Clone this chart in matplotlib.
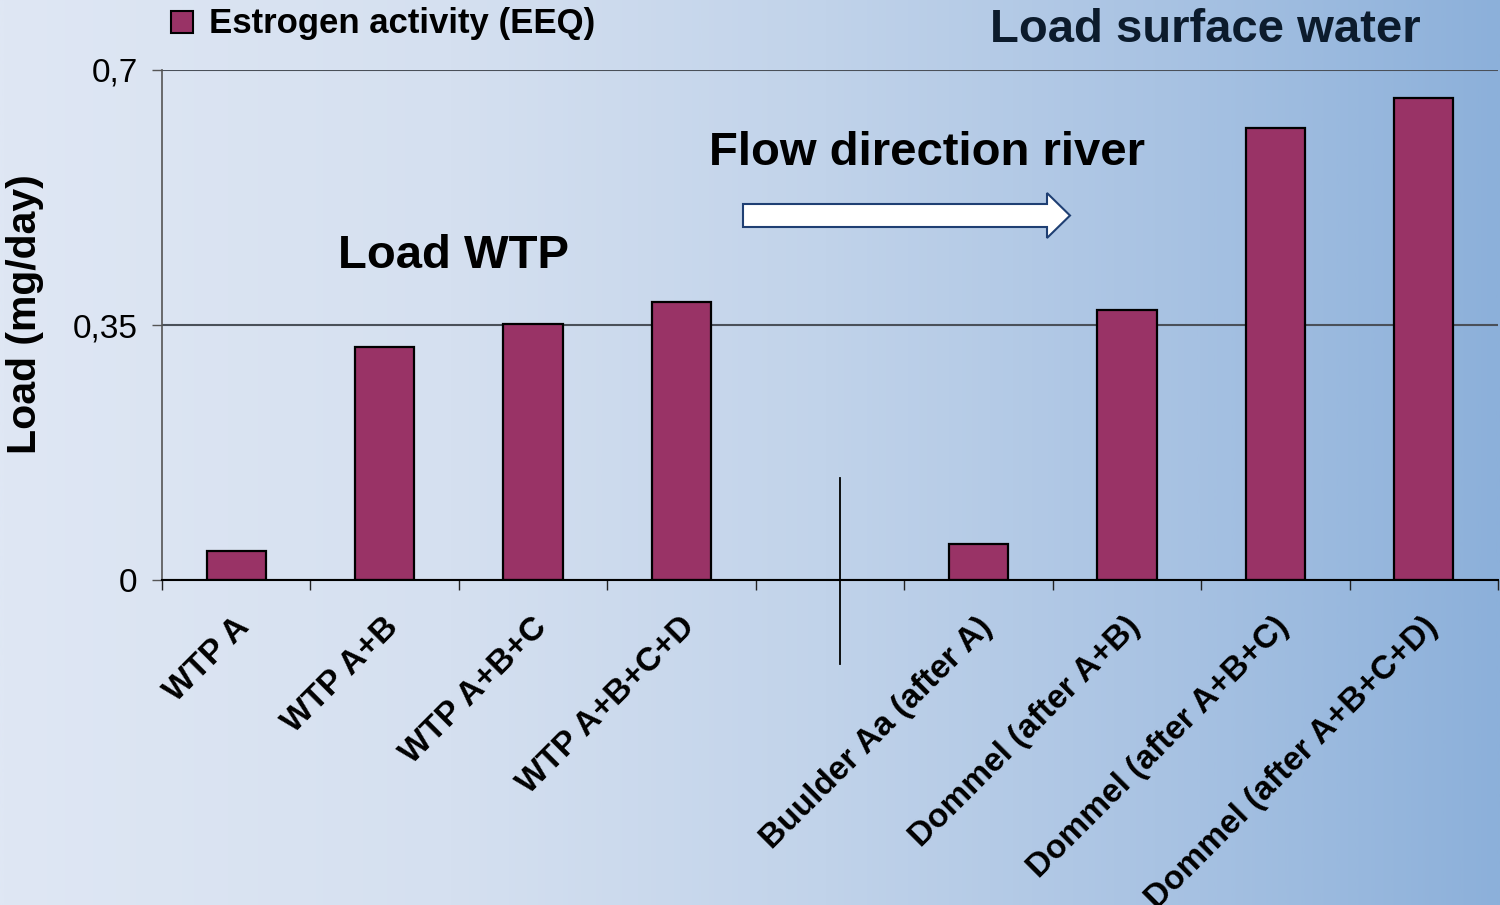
import numpy as np
import matplotlib
matplotlib.use("Agg")
import matplotlib.pyplot as plt
from matplotlib.colors import LinearSegmentedColormap
from matplotlib.patches import Rectangle, Polygon

plt.rcParams['font.family'] = ['Liberation Sans', 'DejaVu Sans']

# === DATOS ===
categorias = ["WTP A", "WTP A+B", "WTP A+B+C", "WTP A+B+C+D", "",
              "Buulder Aa (after A)", "Dommel (after A+B)",
              "Dommel (after A+B+C)", "Dommel (after A+B+C+D)"]
eeq_load = [0.040, 0.320, 0.351, 0.381, np.nan, 0.050, 0.371, 0.621, 0.661]
y_ticks = [0, 0.35, 0.7]
y_tick_labels = ["0", "0,35", "0,7"]
serie_label = "Estrogen activity (EEQ)"

BAR_COLOR = "#993366"
W, H = 1500, 905


# conversion de pixeles a fraccion de figura
def fx(px):
    return px / W


def fy(py):
    return 1 - py / H


fig = plt.figure(figsize=(15, 9.05), dpi=100)

# === FONDO DEGRADADO ===
bg = fig.add_axes([0, 0, 1, 1], zorder=-10)
cmap = LinearSegmentedColormap.from_list(
    "bg", [(0, "#dfe7f4"), (0.3, "#d5e0f0"), (0.55, "#c1d3ea"),
           (0.8, "#a6c1e2"), (1, "#8cb0da")])
bg.imshow(np.linspace(0, 1, 512)[None, :], aspect="auto", cmap=cmap,
          extent=[0, 1, 0, 1])
bg.axis("off")

# === EJES ===
ax = fig.add_axes([fx(162), fy(580), fx(1498) - fx(162), fy(70) - fy(580)])
ax.set_facecolor("none")

x = np.arange(len(categorias))
vals = np.array(eeq_load, dtype=float)
mask = ~np.isnan(vals)
ax.bar(x[mask], vals[mask], width=0.4, color=BAR_COLOR, edgecolor="black",
       linewidth=1.6, zorder=3)

ax.set_xlim(-0.5, len(categorias) - 0.5)
ax.set_ylim(0, 0.7)

ax.set_yticks(y_ticks)
ax.set_yticklabels(y_tick_labels, fontsize=24)
ax.set_xticks(np.arange(len(categorias) + 1) - 0.5)
ax.set_xticklabels([])
ax.tick_params(axis="x", length=7.5, width=1, color="#222222", direction="out")
ax.tick_params(axis="y", length=7.5, width=1, color="#555555", direction="out", pad=10)

ax.yaxis.grid(True, color="#4a5059", linewidth=1.5, zorder=1)
ax.set_axisbelow(True)
for s in ["top", "right"]:
    ax.spines[s].set_visible(False)
ax.spines["left"].set_color("#555555")
ax.spines["left"].set_linewidth(1.2)
ax.spines["bottom"].set_color("black")
ax.spines["bottom"].set_linewidth(1.5)
ax.spines["bottom"].set_zorder(4)

# etiquetas rotadas
for i, lab in enumerate(categorias):
    ax.text(i + 0.06, -0.058, lab, rotation=45, ha="right", va="center",
            rotation_mode="anchor", fontsize=24, fontweight="bold",
            clip_on=False)

# separador vertical
sep_x = 4.07
ax.plot([sep_x, sep_x], [0.14, -0.115], color="black", linewidth=1.3,
        clip_on=False, zorder=5)

# === TEXTOS ===
fig.text(fx(25), fy(314), "Load (mg/day)", rotation=90, ha="center",
         va="center", fontsize=29.5, fontweight="bold")
fig.text(fx(454), fy(256), "Load WTP", ha="center", va="center",
         fontsize=34, fontweight="bold")
fig.text(fx(927), fy(153), "Flow direction river", ha="center", va="center",
         fontsize=34, fontweight="bold")
fig.text(fx(1205), fy(30), "Load surface water", ha="center", va="center",
         fontsize=34, fontweight="bold", color="#0c1b2c")

# leyenda
fig.patches.append(Rectangle((fx(171), fy(33)), fx(22), 22 / H,
                             transform=fig.transFigure, facecolor=BAR_COLOR,
                             edgecolor="black", linewidth=1.5))
fig.text(fx(209), fy(23), serie_label, ha="left", va="center",
         fontsize=25, fontweight="bold")

# flecha
flecha = [(743, 204), (1047, 204), (1047, 193), (1070, 215.5),
          (1047, 238), (1047, 227), (743, 227)]
fig.patches.append(Polygon([(fx(a), fy(b)) for a, b in flecha], closed=True,
                           transform=fig.transFigure, facecolor="white",
                           edgecolor="#1f3f73", linewidth=1.5))

fig.savefig("out.png", dpi=100)
